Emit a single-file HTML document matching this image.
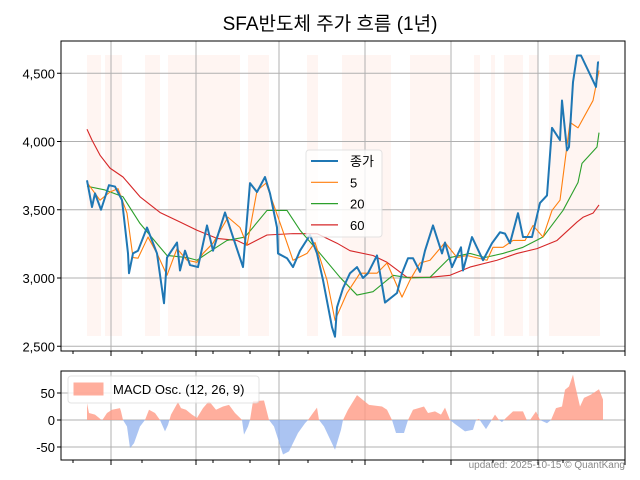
<!DOCTYPE html>
<html><head><meta charset="utf-8"><style>
body{margin:0;background:#fff}
svg{display:block;font-family:"Liberation Sans","Noto Sans CJK KR",sans-serif}
</style></head><body>
<svg id="c" width="640" height="480" xmlns="http://www.w3.org/2000/svg">
<text x="330" y="30" text-anchor="middle" font-size="19" fill="#000">SFA반도체 주가 흐름 (1년)</text>
<g id="main"></g>
<g id="macd"></g>
<text x="625" y="468" text-anchor="end" font-size="10" fill="#888">updated: 2025-10-15 © QuantKang</text>
</svg>
<script>
// time unit: t (0..513 across the year)
const closeT=[0,5,8,14,22,28,35,41,42,46,51,60,70,77,80,90,93,98,103,111,120,126,138,146,156,163,170,178,183,190,191,200,206,213,223,230,236,245,248,250,256,263,270,276,281,290,298,310,315,321,326,333,338,346,355,358,365,374,376,385,396,405,413,418,423,431,436,445,453,460,465,473,475,480,482,486,490,494,509,511,512];
const closeV=[3716,3520,3620,3500,3680,3670,3570,3180,3035,3180,3200,3370,3180,2815,3150,3260,3055,3200,3095,3080,3385,3200,3480,3300,3080,3695,3630,3740,3620,3370,3180,3145,3080,3200,3315,3180,2985,2640,2570,2785,2925,3035,3080,3000,3035,3165,2820,2890,3035,3145,3145,3045,3200,3385,3180,3260,3080,3225,3055,3300,3130,3255,3335,3325,3255,3475,3300,3300,3550,3605,4100,4010,4300,3935,3960,4435,4630,4630,4400,4580,4580];
const ma5T=[0,13,23,31,40,46,51,61,70,80,90,100,110,116,126,141,153,160,170,179,186,198,206,220,228,240,248,260,273,290,300,315,323,333,343,358,370,380,400,406,416,426,438,446,456,465,473,483,491,506,512];
const ma5V=[3700,3570,3630,3655,3475,3150,3145,3300,3180,3020,3215,3130,3115,3180,3255,3445,3370,3240,3640,3695,3550,3300,3130,3180,3260,2985,2690,2890,3035,3035,3110,2860,2985,3110,3130,3260,3150,3165,3130,3225,3225,3275,3275,3385,3300,3495,3570,4140,4100,4300,4520];
const ma20T=[0,18,36,53,73,80,100,110,120,140,158,180,200,213,233,253,270,286,306,323,343,363,383,398,416,436,456,476,491,495,510,512];
const ma20V=[3672,3645,3595,3400,3225,3165,3150,3130,3180,3275,3300,3495,3495,3350,3180,3005,2875,2900,3020,3000,3005,3150,3180,3150,3180,3225,3300,3495,3700,3840,3960,4065];
const ma60T=[0,5,13,23,36,53,73,93,110,130,150,160,180,206,230,250,263,286,300,320,343,363,383,410,430,450,470,490,496,506,512];
const ma60V=[4090,4010,3900,3805,3740,3595,3480,3410,3350,3290,3275,3240,3315,3325,3325,3255,3200,3165,3115,3005,3005,3020,3080,3130,3180,3215,3275,3410,3445,3475,3535];
const bandStart=[0,18,58,81,161,220,255,323,387,404,417,442,462];
const bandEnd=[14,35,73,153,182,231,304,363,393,408,436,451,513];
const macdT=[0,2,8,12,15,20,25,33,34,36,40,43,47,53,58,62,68,73,78,81,84,91,94,99,105,110,116,122,129,136,142,148,153,155,157,161,163,166,177,182,187,196,202,211,218,221,226,230,232,237,248,254,256,261,270,282,295,300,305,309,317,321,326,337,341,348,354,358,363,367,378,386,389,392,399,404,408,412,415,419,426,436,440,443,449,453,460,464,469,475,478,482,486,488,493,497,504,512,516];
const macdV=[31,13,10,4,-1,13,19,22,16,0,-12,-52,-43,-12,0,19,13,0,-21,-9,10,33,22,19,10,4,22,35,19,25,28,13,4,0,-27,-12,0,35,36,0,-12,-64,-58,-24,-6,0,13,23,0,-12,-55,-18,0,19,46,28,25,19,0,-24,-24,0,19,25,13,16,10,23,0,-6,-21,-18,0,2,-17,-2,10,0,-4,4,16,16,-1,0,16,0,-6,0,22,25,56,62,84,65,25,41,47,57,38,0];
const priceTicks=[2500,3000,3500,4000,4500];
const priceTickLabels=["2,500","3,000","3,500","4,000","4,500"];
const macdTicks=[-50,0,50];
const macdTickLabels=["-50","0","50"];

const NS="http://www.w3.org/2000/svg";
function mk(tag,attrs,parent){const e=document.createElementNS(NS,tag);for(const k in attrs)e.setAttribute(k,attrs[k]);parent.appendChild(e);return e;}
const X0=61,X1=625;
const xs=t=>87+t;
const ys=v=>278-(v-3000)*0.1365;
const ym=v=>420-v*0.54;
const gridX=[111,196,279,365,451,538];
const minorX=[73,142,213,250,308,352,423,493,563];

const main=document.getElementById('main');
// bands
for(let i=0;i<bandStart.length;i++){
  const r=mk('rect',{x:xs(bandStart[i]),y:55,width:bandEnd[i]-bandStart[i],height:281,fill:'#ffefea',opacity:0.6},main);
  
  
}
// grid
gridX.forEach(x=>{mk('line',{x1:x,x2:x,y1:41,y2:351,stroke:'#b0b0b0','stroke-width':1},main);});
priceTicks.forEach((v,i)=>{
  mk('line',{x1:X0,x2:X1,y1:ys(v),y2:ys(v),stroke:'#b0b0b0','stroke-width':1},main);
  mk('line',{x1:X0-4,x2:X0,y1:ys(v),y2:ys(v),stroke:'#000'},main);
  const t=mk('text',{x:X0-6,y:ys(v)+5,'text-anchor':'end','font-size':13},main);
  t.textContent=priceTickLabels[i];
  
  
});
function line(T,V,color,w,name,g,yf){
  const p=mk('polyline',{points:T.map((t,i)=>xs(t)+','+yf(V[i])).join(' '),fill:'none',stroke:color,'stroke-width':w,'stroke-linejoin':'round'},g);
  
  
}
line(ma60T,ma60V,'#d62728',1.1,'ma60-line',main,ys);
line(ma20T,ma20V,'#2ca02c',1.1,'ma20-line',main,ys);
line(ma5T,ma5V,'#ff7f0e',1.1,'ma5-line',main,ys);
line(closeT,closeV,'#1f77b4',2,'close-line',main,ys);
mk('rect',{x:X0,y:41,width:X1-X0,height:310,fill:'none',stroke:'#000','stroke-width':1},main);
gridX.concat([625]).forEach(x=>mk('line',{x1:x,x2:x,y1:351,y2:356,stroke:'#000'},main));
minorX.forEach(x=>mk('line',{x1:x,x2:x,y1:351,y2:354,stroke:'#000'},main));
// legend
const lg=mk('g',{},main);


mk('rect',{x:306,y:150,width:76,height:87,fill:'#fff',opacity:0.8,stroke:'#ddd',rx:3},lg);
[['종가','#1f77b4',2],['5','#ff7f0e',1.2],['20','#2ca02c',1.2],['60','#d62728',1.2]].forEach((e,i)=>{
  const y=161+i*21.3;
  mk('line',{x1:311,x2:338,y1:y,y2:y,stroke:e[1],'stroke-width':e[2]},lg);
  const t=mk('text',{x:350,y:y+5,'font-size':13},lg);t.textContent=e[0];
  
  
});

// MACD
const mg=document.getElementById('macd');
const defs=mk('defs',{},mg);
const cp1=mk('clipPath',{id:'pos'},defs);mk('rect',{x:X0,y:371,width:X1-X0,height:49},cp1);
const cp2=mk('clipPath',{id:'neg'},defs);mk('rect',{x:X0,y:420,width:X1-X0,height:40},cp2);
gridX.forEach(x=>mk('line',{x1:x,x2:x,y1:371,y2:460,stroke:'#b0b0b0'},mg));
macdTicks.forEach((v,i)=>{
  mk('line',{x1:X0,x2:X1,y1:ym(v),y2:ym(v),stroke:'#b0b0b0'},mg);
  mk('line',{x1:X0-4,x2:X0,y1:ym(v),y2:ym(v),stroke:'#000'},mg);
  const t=mk('text',{x:X0-6,y:ym(v)+5,'text-anchor':'end','font-size':13},mg);t.textContent=macdTickLabels[i];
  
  
});
const pts=xs(macdT[0])+','+ym(0)+' '+macdT.map((t,i)=>xs(t)+','+ym(macdV[i])).join(' ')+' '+xs(macdT[macdT.length-1])+','+ym(0);
const pa=mk('polygon',{points:pts,fill:'#ff9a85',opacity:0.8,'clip-path':'url(#pos)'},mg);


const na=mk('polygon',{points:pts,fill:'#8fb0ee',opacity:0.75,'clip-path':'url(#neg)'},mg);


mk('rect',{x:X0,y:371,width:X1-X0,height:89,fill:'none',stroke:'#000'},mg);
gridX.concat([625]).forEach(x=>mk('line',{x1:x,x2:x,y1:460,y2:465,stroke:'#000'},mg));
minorX.forEach(x=>mk('line',{x1:x,x2:x,y1:460,y2:463,stroke:'#000'},mg));
const ml=mk('g',{},mg);


mk('rect',{x:68,y:376,width:191,height:27,fill:'#fff',opacity:0.8,stroke:'#ddd',rx:3},ml);
mk('rect',{x:74,y:383,width:29,height:12,fill:'#ff9a85',opacity:0.8,stroke:'#ff9a85'},ml);
const mt=mk('text',{x:113,y:394,'font-size':13},ml);mt.textContent='MACD Osc. (12, 26, 9)';
</script>
</body></html>
